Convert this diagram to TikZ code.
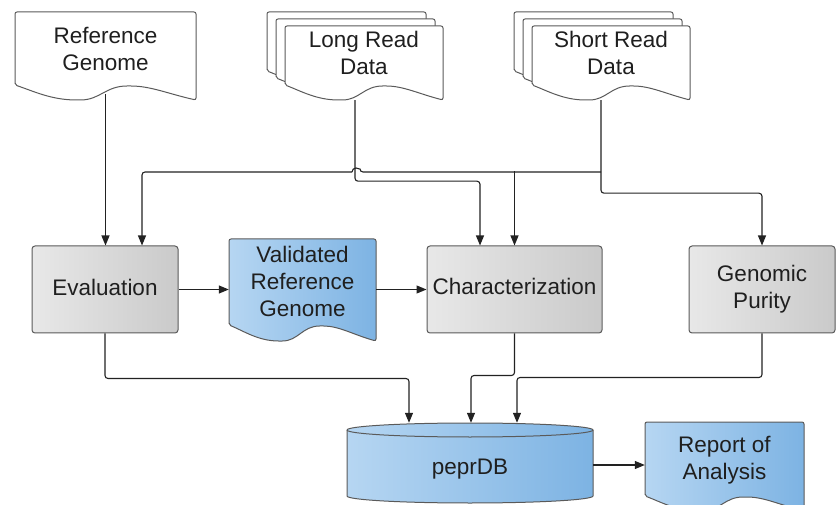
\documentclass[tikz,border=0pt]{standalone}
\usepackage{fontspec}
\setmainfont{Liberation Sans}
\usetikzlibrary{arrows.meta,calc}
\definecolor{gl}{HTML}{E8E8E8}
\definecolor{gr}{HTML}{CACACA}
\definecolor{bl}{HTML}{B6D6F2}
\definecolor{br}{HTML}{7DB3E3}
\definecolor{edge}{HTML}{5A5A5A}
\definecolor{wire}{HTML}{222222}
\newcommand\docshp[6]{%
  \draw[#1] (#2,#3+#5) -- (#2,#3) -- (#2+#4,#3) -- (#2+#4,#3+#5+#6)
    .. controls (#2+0.85*#4,#3+#5+#6-6) and (#2+0.75*#4,#3+#5+1) .. (#2+0.63*#4,#3+#5+1)
    .. controls (#2+0.5*#4,#3+#5+1) and (#2+0.47*#4,#3+#5+#6) .. (#2+0.35*#4,#3+#5+#6)
    .. controls (#2+0.2*#4,#3+#5+#6) and (#2+0.1*#4,#3+#5+6) .. (#2,#3+#5) -- cycle;}
\tikzset{
  txt/.style={font=\fontsize{22.5}{27}\selectfont, text=black!88, align=center, inner sep=0pt},
  bound/.style={draw=none, inner sep=0pt},
  wdoc/.style={draw=edge, line width=1pt, fill=white, rounded corners=2pt},
  bdoc/.style={draw=edge, line width=1pt, left color=bl, right color=br, rounded corners=2pt},
  gbox/.style={draw=edge, line width=1pt, left color=gl, right color=gr, rounded corners=3pt, inner sep=0pt},
  conn/.style={draw=wire, line width=1.1pt, rounded corners=3pt},
  arr/.style={-{Triangle[length=10pt,width=8pt]}}
}
\begin{document}
\begin{tikzpicture}[x=1pt,y=-1pt]
\useasboundingbox (0,0) rectangle (836,505);

% Reference Genome
\docshp{wdoc}{15}{12}{181}{73}{15}
\node[bound, minimum width=181pt, minimum height=82pt] (refg) at (105.5,53) {};
\node[txt] (refgt) at (105.5,49) {Reference\\Genome};

% Long Read Data (stack)
\docshp{wdoc}{267}{12}{159}{59}{15}
\docshp{wdoc}{276}{19}{159}{59}{15}
\docshp{wdoc}{285}{26}{158}{59}{15}
\node[bound, minimum width=176pt, minimum height=88pt] (lrd) at (355,56) {};
\node[txt] (lrdt) at (364,53) {Long Read\\Data};

% Short Read Data (stack)
\docshp{wdoc}{514}{12}{159}{59}{15}
\docshp{wdoc}{523}{19}{159}{59}{15}
\docshp{wdoc}{532}{26}{158}{59}{15}
\node[bound, minimum width=176pt, minimum height=88pt] (srd) at (601,56) {};
\node[txt] (srdt) at (611,53) {Short Read\\Data};

% process boxes
\node[gbox, minimum width=146pt, minimum height=87pt] (eval) at (105,289.5) {};
\node[txt] (evalt) at (105,287.5) {Evaluation};
\node[gbox, minimum width=175pt, minimum height=87pt] (char) at (514.5,289.5) {};
\node[txt] (chart) at (514.5,286.5) {Characterization};
\node[gbox, minimum width=146pt, minimum height=87pt] (gp) at (762,289.5) {};
\node[txt] (gpt) at (762,289.5) {Genomic\\Purity};

% Validated Reference Genome
\docshp{bdoc}{229}{239}{147}{86}{16}
\node[bound, minimum width=147pt, minimum height=102pt] (val) at (302.5,290) {};
\node[txt] (valt) at (302.5,281) {Validated\\Reference\\Genome};

% peprDB cylinder
\draw[draw=edge, line width=1pt, left color=bl, right color=br]
  (347,430) -- (347,496) arc[start angle=180, end angle=360, x radius=123pt, y radius=7pt]
  -- (593,430) arc[start angle=0, end angle=180, x radius=123pt, y radius=7pt] -- cycle;
\draw[draw=edge, line width=1pt] (347,430) arc[start angle=180, end angle=360, x radius=123pt, y radius=7pt];
\node[bound, minimum width=246pt, minimum height=84pt] (db) at (470,465) {};
\node[txt] (dbt) at (470,469.5) {peprDB};

% Report of Analysis
\docshp{bdoc}{645}{422}{159}{74}{15}
\node[bound, minimum width=159pt, minimum height=76pt] (rep) at (724.5,460) {};
\node[txt] (rept) at (724.5,460) {Report of\\Analysis};

% connectors
\draw[conn, arr] (refg.south) -- (refg.south |- eval.north);
\draw[conn, arr] (srd.south) -- ++(0,93) -| (gp.north);
\coordinate (busR) at (601,172);
\coordinate (jumpR) at (360,172);
\coordinate (jumpL) at (352,172);
\draw[conn] (busR) -- (jumpR) arc[start angle=0, end angle=180, radius=4pt];
\draw[conn, arr] (jumpL) -| ($(eval.north)+(37,0)$);
\draw[conn, arr] ([yshift=74pt]char.north) -- (char.north);
\draw[conn, arr] (lrd.south) -- ++(0,81) -| ($(char.north)+(-34.5,0)$);
\draw[conn, arr] (eval.east) -- (eval.east -| val.west);
\draw[conn, arr] (char.west -| val.east) -- (char.west);
\draw[conn, arr] (eval.south) -- ++(0,45) -| ($(db.north)+(-61,0)$);
\draw[conn, arr] (char.south) -- ++(0,42) -| ($(db.north)+(1,0)$);
\draw[conn, arr] (gp.south) -- ++(0,44) -| ($(db.north)+(47,0)$);
\draw[conn, arr] (db.east) -- (db.east -| rep.west);
\end{tikzpicture}
\end{document}
